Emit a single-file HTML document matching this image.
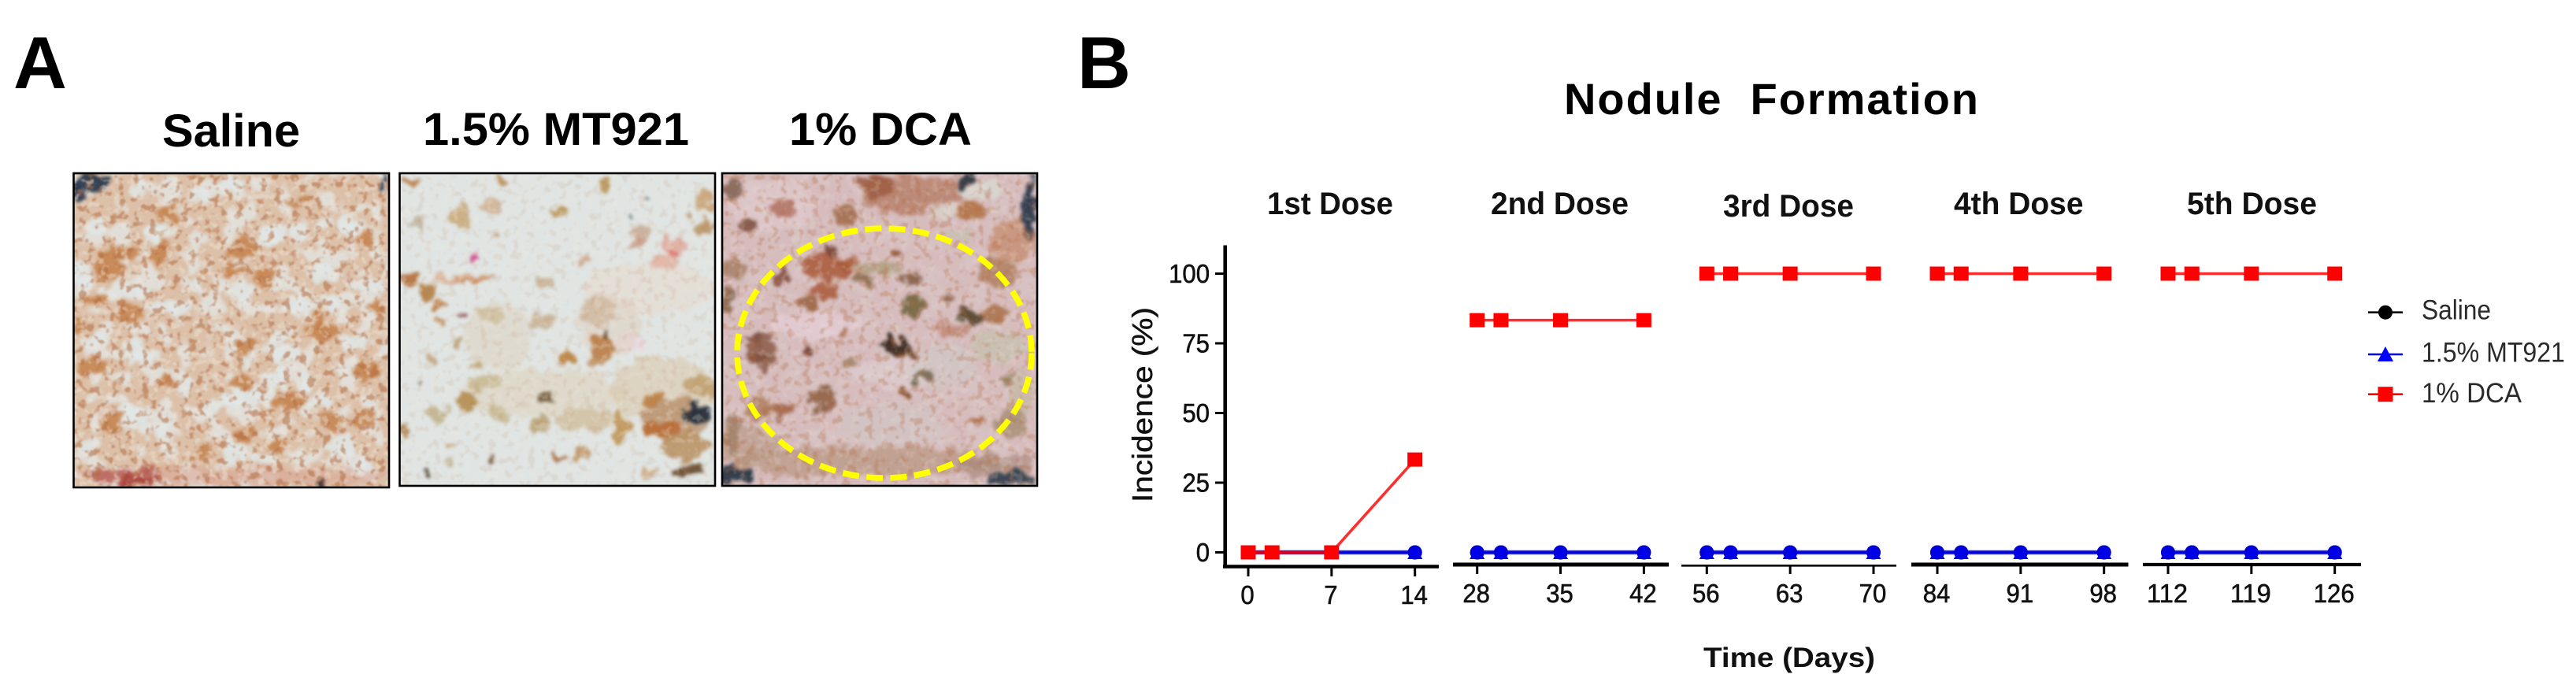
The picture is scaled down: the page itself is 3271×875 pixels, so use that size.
<!DOCTYPE html>
<html lang="en">
<head>
<meta charset="utf-8">
<title>Nodule Formation</title>
<style>
html,body{margin:0;padding:0;background:#fff;}
svg{display:block;font-family:"Liberation Sans",sans-serif;}
</style>
</head>
<body>
<svg id="figure" xmlns="http://www.w3.org/2000/svg" width="3271" height="875" viewBox="0 0 3271 875">
<defs>
<filter id="soft" x="-5%" y="-5%" width="110%" height="110%" color-interpolation-filters="sRGB">
<feTurbulence type="fractalNoise" baseFrequency="0.06" numOctaves="2" seed="7" result="warp"/>
<feDisplacementMap in="SourceGraphic" in2="warp" scale="26" xChannelSelector="R" yChannelSelector="G"/>
<feGaussianBlur stdDeviation="2.2"/>
</filter>
<filter id="speck-brown" x="0" y="0" width="100%" height="100%" color-interpolation-filters="sRGB">
<feTurbulence type="fractalNoise" baseFrequency="0.1" numOctaves="2" seed="4"/>
<feColorMatrix values="0 0 0 0 0.70  0 0 0 0 0.42  0 0 0 0 0.25  7 0 0 0 -3.8"/>
<feGaussianBlur stdDeviation="0.9"/>
</filter>
<filter id="speck-light" x="0" y="0" width="100%" height="100%" color-interpolation-filters="sRGB">
<feTurbulence type="fractalNoise" baseFrequency="0.11" numOctaves="2" seed="11"/>
<feColorMatrix values="0 0 0 0 0.93  0 0 0 0 0.90  0 0 0 0 0.86  7 0 0 0 -3.8"/>
<feGaussianBlur stdDeviation="0.9"/>
</filter>
<filter id="speck-patch" x="0" y="0" width="100%" height="100%" color-interpolation-filters="sRGB">
<feTurbulence type="fractalNoise" baseFrequency="0.035" numOctaves="2" seed="23"/>
<feColorMatrix values="0 0 0 0 0.89  0 0 0 0 0.91  0 0 0 0 0.91  9 0 0 0 -4.6"/>
<feGaussianBlur stdDeviation="1.5"/>
</filter>
<clipPath id="clip-saline"><rect x="93.5" y="220" width="400.5" height="399"/></clipPath>
<clipPath id="clip-mt921"><rect x="507.5" y="220" width="400.5" height="397"/></clipPath>
<clipPath id="clip-dca"><rect x="917" y="220" width="400" height="397"/></clipPath>
</defs>

<text x="17" y="112" font-size="94" font-weight="700" fill="#000">A</text>
<text x="1368" y="112" font-size="94" font-weight="700" fill="#000">B</text>

<text x="206" y="186" font-size="58" font-weight="700" textLength="175" lengthAdjust="spacingAndGlyphs" fill="#000">Saline</text>
<text x="537" y="184" font-size="58" font-weight="700" textLength="338" lengthAdjust="spacingAndGlyphs" fill="#000">1.5% MT921</text>
<text x="1002" y="184" font-size="58" font-weight="700" textLength="232" lengthAdjust="spacingAndGlyphs" fill="#000">1% DCA</text>

<g id="photo-saline" clip-path="url(#clip-saline)"></g>
<g id="photo-mt921" clip-path="url(#clip-mt921)"></g>
<g id="photo-dca" clip-path="url(#clip-dca)"></g>

<rect x="93.5" y="220" width="400.5" height="399" fill="none" stroke="#000" stroke-width="2.6"/>
<rect x="507.5" y="220" width="400.5" height="397" fill="none" stroke="#000" stroke-width="2.6"/>
<rect x="917" y="220" width="400" height="397" fill="none" stroke="#000" stroke-width="2.6"/>
<ellipse cx="1123" cy="448.5" rx="187" ry="158.5" fill="none" stroke="#ffff00" stroke-width="7.5" stroke-dasharray="21 9.4"/>

<text x="1986" y="145" font-size="56" font-weight="700" textLength="526" lengthAdjust="spacing" xml:space="preserve" fill="#000">Nodule  Formation</text>
<text transform="translate(1463,638) rotate(-90)" font-size="36" textLength="248" lengthAdjust="spacingAndGlyphs" fill="#111" stroke="#111" stroke-width="0.5">Incidence (%)</text>
<text x="2163" y="847" font-size="35" font-weight="700" textLength="218" lengthAdjust="spacingAndGlyphs" fill="#111">Time (Days)</text>

<g id="chart"></g>
<g id="legend"></g>
</svg>

<script>
// ---- Chart data ----
const doseTitles = ["1st Dose", "2nd Dose", "3rd Dose", "4th Dose", "5th Dose"];
const doseDays = [[0,2,7,14],[28,30,35,42],[56,58,63,70],[84,86,91,98],[112,114,119,126]];
const tickDays = [[0,7,14],[28,35,42],[56,63,70],[84,91,98],[112,119,126]];
const yTickValues = [0,25,50,75,100];
const salineValues = [[0,0,0,0],[0,0,0,0],[0,0,0,0],[0,0,0,0],[0,0,0,0]];
const mt921Values = [[0,0,0,0],[0,0,0,0],[0,0,0,0],[0,0,0,0],[0,0,0,0]];
const dcaValues = [[0,0,0,33.3],[83.3,83.3,83.3,83.3],[100,100,100,100],[100,100,100,100],[100,100,100,100]];
const legendLabels = ["Saline", "1.5% MT921", "1% DCA"];

// ---- Chart layout (geometry only) ----
const panelGeometry = [
  {first:1585,   from:1553, to:1827, axisY:719.5, axisW:4.5, tickEnd:732, titleX:1609, titleW:160, titleY:272},
  {first:1875.7, from:1845, to:2119, axisY:717,   axisW:5,   tickEnd:729, titleX:1893, titleW:175, titleY:272},
  {first:2167.3, from:2135, to:2408, axisY:718.3, axisW:2.6, tickEnd:729, titleX:2188, titleW:166, titleY:275},
  {first:2460,   from:2427, to:2702.5, axisY:717, axisW:5,   tickEnd:729, titleX:2481, titleW:164.5, titleY:272},
  {first:2753,   from:2721, to:2998, axisY:717,   axisW:4.2, tickEnd:729, titleX:2777, titleW:165, titleY:272}
];
const PX_PER_DAY = 15.12;
const DIGIT_W = 17.3;
const NS = "http://www.w3.org/2000/svg";
function xScale(panel, day){ return panelGeometry[panel].first + (day - doseDays[panel][0]) * PX_PER_DAY; }
function yScale(value){ return 701.5 - value * 3.54; }
function svgEl(parent, tag, props){
  const el = document.createElementNS(NS, tag);
  for (const k in props) el.setAttribute(k, props[k]);
  parent.appendChild(el);
  return el;
}
const chart = document.getElementById("chart");

// y axis
const yAxis = svgEl(chart, "line", {x1:1555.7, x2:1555.7, y1:311.5, y2:721.5, stroke:"#000", "stroke-width":4.6});


yTickValues.forEach(function(v){
  const t = svgEl(chart, "line", {x1:1543, x2:1554, y1:yScale(v), y2:yScale(v), stroke:"#000", "stroke-width":3});
  
  
  const l = svgEl(chart, "text", {x:1536, y:yScale(v)+11.5, "font-size":33, "text-anchor":"end", textLength:String(v).length*DIGIT_W, lengthAdjust:"spacingAndGlyphs", fill:"#111", stroke:"#111", "stroke-width":0.6});
  l.textContent = v;
  
  
});

function polyline(panel, values, stroke, width, opacity){
  const pts = doseDays[panel].map(function(d, i){ return xScale(panel, d) + "," + yScale(values[panel][i]); }).join(" ");
  return svgEl(chart, "polyline", {points:pts, fill:"none", stroke:stroke, "stroke-width":width, "stroke-opacity":opacity});
}

doseTitles.forEach(function(title, p){
  const g = panelGeometry[p];
  const axis = svgEl(chart, "line", {x1:g.from, x2:g.to, y1:g.axisY, y2:g.axisY, stroke:"#000", "stroke-width":g.axisW});
  
  

  const head = svgEl(chart, "text", {x:g.titleX, y:g.titleY, "font-size":40, "font-weight":700, textLength:g.titleW, lengthAdjust:"spacingAndGlyphs", fill:"#111"});
  head.textContent = title;
  
  

  tickDays[p].forEach(function(d){
    const x = xScale(p, d);
    const t = svgEl(chart, "line", {x1:x, x2:x, y1:g.axisY, y2:g.tickEnd, stroke:"#000", "stroke-width":3});
    
    
    const l = svgEl(chart, "text", {x:x-1, y:p === 0 ? 767 : 765, "font-size":33, "text-anchor":"middle", textLength:String(d).length*DIGIT_W, lengthAdjust:"spacingAndGlyphs", fill:"#111", stroke:"#111", "stroke-width":0.6});
    l.textContent = d;
    
    
  });

  // saline series
  const salineLine = polyline(p, salineValues, "#000", 2.5, 1);
  
  
  doseDays[p].forEach(function(d, i){
    const c = svgEl(chart, "circle", {cx:xScale(p, d), cy:yScale(salineValues[p][i]), r:9, fill:"#000"});
    
    
  });

  // MT921 series
  const mtLine = polyline(p, mt921Values, "#0000ff", 5.5, 0.8);
  
  
  doseDays[p].forEach(function(d, i){
    const x = xScale(p, d), y = yScale(mt921Values[p][i]);
    const c = svgEl(chart, "circle", {cx:x, cy:y, r:9, fill:"#0000d8"});
    
    
    const tri = svgEl(chart, "polygon", {points:(x-9.5)+","+(y+8.5)+" "+(x+9.5)+","+(y+8.5)+" "+x+","+(y-9), fill:"#0000e8"});
    
    
  });

  // DCA series
  const dcaLine = polyline(p, dcaValues, "#ff0000", 3.6, 0.82);
  
  
  doseDays[p].forEach(function(d, i){
    const x = xScale(p, d), y = yScale(dcaValues[p][i]);
    const s = svgEl(chart, "rect", {x:x-9.5, y:y-9, width:19, height:18, fill:"#ff0000"});
    
    
  });
});

// ---- Legend ----
const legend = document.getElementById("legend");
const legendY = [396.7, 450, 500.7];
const legendTextY = [405.5, 459.5, 511];
const legendTextW = [88, 182, 127];
const legendColor = ["#000000", "#0000ff", "#ff0000"];
legendLabels.forEach(function(label, i){
  const y = legendY[i];
  const ln = svgEl(legend, "line", {x1:3007, x2:3051, y1:y, y2:y, stroke:legendColor[i], "stroke-width":2.6});
  
  
  let m;
  if (i === 0) m = svgEl(legend, "circle", {cx:3029, cy:y, r:9, fill:legendColor[i]});
  if (i === 1) m = svgEl(legend, "polygon", {points:"3019,"+(y+9)+" 3039,"+(y+9)+" 3029,"+(y-10), fill:legendColor[i]});
  if (i === 2) m = svgEl(legend, "rect", {x:3019.5, y:y-9.5, width:19, height:19, fill:legendColor[i]});
  
  
  const t = svgEl(legend, "text", {x:3075, y:legendTextY[i], "font-size":35, textLength:legendTextW[i], lengthAdjust:"spacingAndGlyphs", fill:"#2a2a2a"});
  t.textContent = label;
  
  
});

// ---- Photo approximations (hand-placed stain blobs, crop coords are 3x from origin) ----
const W = "#dfe7e9";
const B = "#c4804a";
const salineBlobs = [
[120,265,45,30,W],[290,125,30,25,W],[370,285,50,30,W],[70,460,40,70,W],[240,510,90,30,W],[390,560,70,20,W],[510,490,25,30,W],[680,505,50,35,W],[440,575,60,25,W],[800,290,50,30,W],[1090,260,50,30,W],[900,280,50,25,W],[1150,490,80,30,W],[900,565,70,30,W],[1000,440,70,30,W],[620,660,40,20,W],[800,700,30,30,W],[270,740,60,50,W],[320,760,60,30,W],[850,750,60,30,W],[810,850,50,40,W],[700,780,20,30,W],[690,920,90,35,W],[640,920,60,25,W],[980,930,60,30,W],[260,980,70,40,W],[340,1030,50,30,W],[1060,1100,60,40,W],[100,1100,40,40,W],[1160,1190,50,40,W],[660,1120,40,30,W],[770,1150,60,25,W],[460,1240,60,15,W],[120,700,60,30,W],[1110,700,50,30,W],[1020,560,40,30,W],[470,870,30,40,W],[570,950,40,30,W],[1050,810,20,25,W],[930,850,20,30,W],[520,140,40,30,W],[650,100,50,30,W],[1000,250,30,25,W],
[170,420,50,50,B],[230,360,70,25,B],[370,370,35,50,B],[680,350,60,40,B],[770,460,35,40,B],[650,430,50,20,B],[250,595,50,30,B],[110,540,50,25,B],[70,635,30,25,B],[120,790,60,40,B],[400,860,30,30,B],[190,1010,35,40,B],[400,210,40,30,B],[890,165,50,15,B],[1150,305,25,35,B],[1000,660,70,40,B],[970,620,25,30,B],[680,860,50,30,B],[700,720,60,25,B],[850,930,70,30,B],[1030,1000,50,30,B],[1150,1000,40,30,B],[1150,820,50,30,B],[690,1060,40,30,B],[820,1100,30,30,B],[540,1120,25,40,B],[1190,580,25,30,B],
[640,1215,600,35,"#d9a493"],[230,1215,150,35,"#b9645a"],[300,1230,70,25,"#a8423c"],[110,95,70,35,"#182a42"],[55,130,20,30,"#1c2c44"],[1225,95,14,30,"#2c3e55"],[985,1245,12,10,"#301c18"]
];
const mt921Blobs = [
[1000,500,250,100,"#e6d9cc"],[930,700,60,40,"#ead9e2"],[850,640,120,120,"#dccdbe"],[600,900,320,90,"#dccfb8"],[430,680,130,130,"#dcd2c0"],[1050,880,200,120,"#d8c4a6"],
[95,85,30,15,"#b57840"],[435,80,30,15,"#b88a50"],[835,110,30,30,"#b89050"],[280,230,35,40,"#c8a878"],[400,190,40,25,"#cfb090"],[660,205,30,18,"#b89050"],[415,295,20,20,"#c09060"],[120,245,20,12,"#c0b098"],[1215,175,35,40,"#c8a070"],[1210,265,35,25,"#b89060"],[1160,225,20,20,"#c09868"],[975,290,40,25,"#c8a890"],[950,325,35,20,"#c89880"],[1090,340,45,45,"#e0a898"],[1090,365,25,12,"#e06060"],[1060,400,60,20,"#e0b0a0"],[330,385,18,18,"#d04080"],[760,390,20,15,"#d0a080"],[95,460,35,25,"#b06830"],[160,505,30,40,"#b07838"],[340,465,80,15,"#c07840"],[270,460,120,10,"#d8a888"],[205,570,25,15,"#b87030"],[205,625,15,10,"#b87838"],[280,607,15,10,"#804040"],[600,470,30,30,"#c8b090"],[400,600,50,30,"#cfc0a0"],[600,620,50,30,"#c8b090"],[800,580,70,50,"#d0b8a0"],[820,720,45,50,"#b87840"],[835,680,6,10,"#222222"],[795,780,25,20,"#c09060"],[690,765,22,25,"#b87830"],[340,780,25,20,"#c0a070"],[270,705,18,18,"#b89868"],[175,770,18,18,"#c0a078"],[380,860,70,30,"#c8b890"],[310,930,40,30,"#b08848"],[190,975,50,30,"#c0b088"],[610,910,25,20,"#6a5030"],[430,980,30,30,"#c8b890"],[590,1020,40,25,"#b8a070"],[760,1000,120,40,"#d0c0a0"],[890,1030,30,70,"#c09050"],[1010,920,40,30,"#b87838"],[1100,1000,130,80,"#a87040"],[1050,1040,70,40,"#b86830"],[1150,1190,60,25,"#604020"],[1200,870,60,40,"#c0a070"],[1140,1100,100,50,"#b89060"],[1190,980,60,40,"#102030"],[70,1040,15,35,"#a87840"],[660,1140,30,12,"#a06030"],[740,1130,30,30,"#c09868"],[245,1095,25,15,"#c8a870"],[405,1140,15,15,"#705030"],[155,1200,10,10,"#403020"],[230,1165,15,15,"#c0b090"],[1000,1200,30,25,"#c8a880"],[130,870,9,9,"#403830"],[1000,160,8,8,"#50504a"],[930,220,8,8,"#50504a"]
];
const dcaBlobs = [
[250,180,170,100,"#e2ccd0"],[700,820,150,60,"#dfd2d6"],[900,800,130,80,"#cdcaca"],[1100,720,100,60,"#c8c0b0"],[700,1020,200,80,"#d0c6c6"],[400,640,170,50,"#e9d3de"],
[770,140,200,70,"#a86040"],[640,110,70,40,"#9a5a40"],[1000,200,60,40,"#b07040"],[1050,120,90,35,"#d8d8d0"],[900,210,50,30,"#d8d0c8"],[1220,200,25,120,"#1a2a40"],[1150,320,90,80,"#c07850"],[1100,440,80,60,"#b08060"],[950,300,50,30,"#c8c0b0"],[980,85,40,20,"#202830"],[90,120,40,50,"#806050"],[150,260,30,30,"#7a4a3a"],[280,195,45,25,"#b07060"],[525,225,50,35,"#a06848"],[100,420,50,40,"#a88068"],[70,540,20,60,"#806048"],[450,420,90,50,"#a85838"],[440,510,50,30,"#a85838"],[530,400,50,25,"#a85838"],[460,355,30,25,"#704030"],[280,450,30,40,"#804838"],[590,465,35,25,"#8a6848"],[710,365,25,15,"#8a5030"],[780,460,40,20,"#805840"],[650,420,100,20,"#b0a080"],[370,550,40,25,"#986040"],[780,570,50,40,"#706038"],[1000,600,50,30,"#4a3a20"],[1090,600,50,25,"#a87048"],[715,720,55,32,"#2a1a10"],[745,745,30,15,"#6a4020"],[525,655,12,22,"#a06040"],[750,900,22,22,"#7a3a10"],[905,530,20,20,"#8a6048"],[930,660,60,30,"#c08878"],[175,680,30,25,"#704030"],[200,740,60,60,"#8a5a48"],[180,770,40,30,"#805040"],[375,745,18,28,"#6a3020"],[530,780,30,20,"#a08060"],[430,920,40,40,"#8a5a40"],[260,960,50,30,"#a06040"],[200,960,60,40,"#b08060"],[1020,995,25,18,"#b07050"],[1140,850,25,18,"#908060"],[600,1160,500,60,"#b08a70"],[150,1100,120,70,"#b09078"],[1100,1180,140,50,"#a08070"],[110,1210,70,35,"#182838"],[1150,1220,90,25,"#283848"],[830,840,35,15,"#706048"],[90,1050,30,80,"#a08068"],[1190,900,45,100,"#c8b8a8"],[1160,1010,60,60,"#a89078"]
];
const photoConfigs = [
  {id:"photo-saline", blobs:salineBlobs, ox:80,  oy:200, x:93.5, y:220, w:400.5, h:399, base:"#dcc0a8", brown:0.55, light:0.45, patch:0.75},
  {id:"photo-mt921",  blobs:mt921Blobs,  ox:490, oy:200, x:507.5,y:220, w:400.5, h:397, base:"#e0e5e3", brown:0.10, light:0.25, patch:0.15},
  {id:"photo-dca",    blobs:dcaBlobs,    ox:900, oy:200, x:917,  y:220, w:400,   h:397, base:"#d6bcbd", brown:0.30, light:0.18, patch:0.12}
];
photoConfigs.forEach(function(cfg){
  const root = document.getElementById(cfg.id);
  svgEl(root, "rect", {x:cfg.x, y:cfg.y, width:cfg.w, height:cfg.h, fill:cfg.base});
  svgEl(root, "rect", {x:cfg.x, y:cfg.y, width:cfg.w, height:cfg.h, fill:"#000", filter:"url(#speck-patch)", opacity:cfg.patch});
  const soft = svgEl(root, "g", {filter:"url(#soft)"});
  const inner = svgEl(soft, "g", {transform:"translate("+cfg.ox+","+cfg.oy+") scale(0.3333)"});
  cfg.blobs.forEach(function(b){
    const big = b[2] * b[3] > 6000;
    svgEl(inner, "ellipse", {cx:b[0], cy:b[1], rx:b[2], ry:b[3], fill:b[4], "fill-opacity":big ? 0.55 : 0.85});
  });
  svgEl(root, "rect", {x:cfg.x, y:cfg.y, width:cfg.w, height:cfg.h, fill:"#000", filter:"url(#speck-brown)", opacity:cfg.brown});
  svgEl(root, "rect", {x:cfg.x, y:cfg.y, width:cfg.w, height:cfg.h, fill:"#000", filter:"url(#speck-light)", opacity:cfg.light});
});
</script>
</body>
</html>
